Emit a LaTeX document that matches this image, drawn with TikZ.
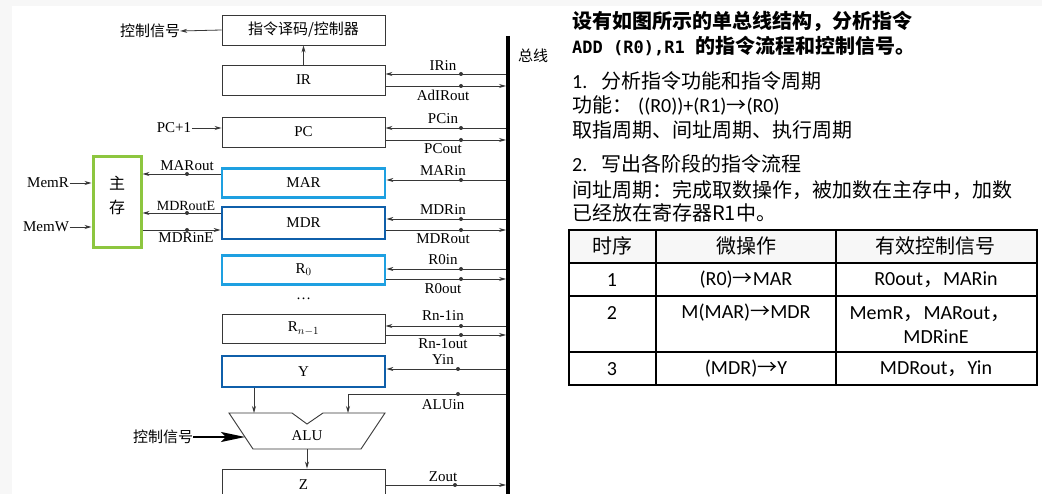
\documentclass[tikz,border=0pt]{standalone}
\usepackage{fontspec}
\setmainfont{Liberation Serif}
\newfontfamily\cjk{Noto Sans CJK SC}
\newfontfamily\calf{Carlito}
\newfontfamily\monof{DejaVu Sans Mono}
\usetikzlibrary{arrows.meta}
\definecolor{lblue}{RGB}{30,160,225}
\definecolor{dblue}{RGB}{15,95,170}
\definecolor{mgreen}{RGB}{141,198,63}
\definecolor{ln}{RGB}{55,55,55}
\newcommand\rarr{{\cjk →}}
\begin{document}
\begin{tikzpicture}[x=1pt,y=-1pt,
  reg/.style={draw=ln,line width=0.9pt,minimum width=163pt,inner sep=0pt,font=\fontsize{15}{15}\selectfont},
  regb/.style={reg,draw=lblue,line width=2.8pt},
  regd/.style={reg,draw=dblue,line width=2.8pt},
  sig/.style={draw=ln,line width=0.8pt,-{Stealth[length=7pt,width=4pt]}},
  lab/.style={inner sep=0.5pt,font=\fontsize{15}{15}\selectfont},
  cn/.style={inner sep=0pt,font=\fontsize{15}{15}\cjk},
  tx/.style={anchor=base west,inner sep=0pt,font=\fontsize{20}{20}\cjk},
  tc/.style={inner sep=0pt,font=\fontsize{20}{20}\calf},
]
\useasboundingbox (0,0) rectangle (1042,494);
\fill[gray!6] (0,0) rectangle (1042,494);
\fill[white] (12,6) rectangle (1042,494);

% registers
\node[reg,minimum height=30pt] (CU) at (303.5,30) {\fontsize{15}{15}\cjk 指令译码/控制器};
\node[reg,minimum height=30pt] (IR) at (303.5,80) {IR};
\node[reg,minimum height=30pt] (PC) at (303.5,132) {PC};
\node[regb,minimum height=29pt] (MAR) at (303.5,183) {MAR};
\node[regd,minimum height=32pt] (MDR) at (303.5,223) {MDR};
\node[regb,minimum height=29pt] (R0) at (303.5,270) {R$_0$};
\node[lab] (dots) at (303.5,299) {\dots};
\node[reg,minimum height=29pt] (Rn) at (303.5,328.5) {R$_{n-1}$};
\node[regd,minimum height=31pt] (Y) at (303.5,371.5) {Y};
\node[reg,minimum height=32pt] (Z) at (303.5,485) {Z};

% bus
\coordinate (busT) at (508,36);
\coordinate (busB) at (508,494);
\coordinate (busL) at (506,0);
\draw[line width=4pt,black] (busT) -- (busB);
\node[cn] (buslab) at (533,56) {总线};

% control
\node[cn] (ctl1) at (150,31) {控制信号};
\draw[sig] (CU.west) -- (ctl1.east);
\draw[sig] (IR.north) -- (CU.south);
\node[lab] (pc1) at (174,128) {PC+1};
\draw[sig] (pc1.east) -- (PC.west |- pc1.east);

% bus signals into registers
\foreach \r/\xx/\yy in {IR/461/74, PC/461/128, MAR/461/180, MDR/461/219, R0/461/269, Rn/461/326, Y/458/369} {
  \coordinate (d) at (\xx,\yy);
  \draw[sig] (busL |- d) -- (\r.east |- d);
  \fill[ln] (d) circle (2);
}
% register outputs to bus
\foreach \r/\xx/\yy in {IR/461/86, PC/461/140, MDR/461/230, R0/461/279, Rn/461/335, Z/455/485} {
  \coordinate (d) at (\xx,\yy);
  \draw[sig] (\r.east |- d) -- (busL |- d);
  \fill[ln] (d) circle (2);
}
% labels
\node[lab] at (443,66) {IRin};
\node[lab] at (443,95) {AdIRout};
\node[lab] at (443,119) {PCin};
\node[lab] at (443,149) {PCout};
\node[lab] at (443,171) {MARin};
\node[lab] at (443,210) {MDRin};
\node[lab] at (443,239) {MDRout};
\node[lab] at (443,260) {R0in};
\node[lab] at (443,289) {R0out};
\node[lab] at (443,316) {Rn-1in};
\node[lab] at (443,344) {Rn-1out};
\node[lab] at (443,360) {Yin};
\node[lab] at (443,405) {ALUin};
\node[lab] at (443,477) {Zout};

% ALU
\coordinate (aluTL) at (229,413);
\coordinate (aluN1) at (292,413);
\coordinate (aluV) at (307,424);
\coordinate (aluN2) at (323,413);
\coordinate (aluTR) at (385,413);
\coordinate (aluBR) at (361,449);
\coordinate (aluBL) at (253,449);
\draw[ln,line width=0.9pt] (aluTL) -- (aluN1) -- (aluV) -- (aluN2) -- (aluTR) -- (aluBR) -- (aluBL) -- cycle;
\node[lab] (alu) at (307,436) {ALU};
\coordinate (aluInA) at (254,413);
\coordinate (aluInB) at (348,413);
\coordinate (aluOut) at (307,449);
\coordinate (dALU) at (458,394);
\draw[sig] (Y.south -| aluInA) -- (aluInA);
\draw[sig] (busL |- dALU) -| (aluInB);
\fill[ln] (dALU) circle (2);
\draw[sig] (aluOut) -- (aluOut |- Z.north);
\node[cn] (ctl2) at (163,437) {控制信号};
\coordinate (aluFeed) at (245,437);
\draw[black,line width=2pt,-{Stealth[length=24pt,width=10pt,inset=5pt]}] (ctl2.east) -- (aluFeed);

% main memory
\node[draw=mgreen,line width=3pt,minimum width=48pt,minimum height=91pt,inner sep=0pt] (mem) at (117,202.5) {};
\node[cn,font=\fontsize{16}{16}\cjk] at (117,183) {主};
\node[cn,font=\fontsize{16}{16}\cjk] at (117,207) {存};
\node[lab] (memr) at (48,183) {MemR};
\node[lab] (memw) at (46,227) {MemW};
\draw[sig] (memr.east) -- (mem.west |- memr.east);
\draw[sig] (memw.east) -- (mem.west |- memw.east);
\coordinate (dMARo) at (187,174);
\coordinate (dMDRoE) at (187,213);
\coordinate (dMDRiE) at (187,230);
\draw[sig] (MAR.west |- dMARo) -- (mem.east |- dMARo);
\draw[sig] (MDR.west |- dMDRoE) -- (mem.east |- dMDRoE);
\draw[sig] (mem.east |- dMDRiE) -- (MDR.west |- dMDRiE);
\fill[ln] (dMARo) circle (2);
\fill[ln] (dMDRoE) circle (2);
\fill[ln] (dMDRiE) circle (2);
\node[lab] at (187,166) {MARout};
\node[lab] at (186,206) {\fontsize{14}{14}\selectfont MDRoutE};
\node[lab] at (186,238) {MDRinE};

% right text
\node[tx,font=\fontsize{20}{20}\cjk\bfseries] (t1) at (572,29) {设有如图所示的单总线结构，分析指令};
\node[tx,font=\fontsize{20}{20}\cjk\bfseries] (t2) at (572,54) {{\monof\bfseries\fontsize{17}{17}\selectfont ADD (R0),R1\ }的指令流程和控制信号。};
\node[tx] (t3) at (572,89) {{\calf 1.}\hspace{14pt}分析指令功能和指令周期};
\node[tx] (t4) at (572,113) {功能：\hspace{6pt}{\calf ((R0))+(R1)}\rarr{\calf (R0)}};
\node[tx] (t5) at (572,138) {取指周期、间址周期、执行周期};
\node[tx] (t6) at (572,172) {{\calf 2.}\hspace{14pt}写出各阶段的指令流程};
\node[tx] (t7) at (572,198) {间址周期：完成取数操作，被加数在主存中，加数};
\node[tx] (t8) at (572,221) {已经放在寄存器R1中。};

% table
\fill[gray!6] (569,230) rectangle (1037,263);
\draw[line width=1.3pt] (569,230) rectangle (1037,385);
\draw[line width=1.3pt] (569,263) -- (1037,263);
\draw[line width=1.3pt] (569,296) -- (1037,296);
\draw[line width=1.3pt] (569,352) -- (1037,352);
\draw[line width=1.3pt] (656,230) -- (656,385);
\draw[line width=1.3pt] (836,230) -- (836,385);
\node[tc] at (612,246) {\cjk 时序};
\node[tc] at (746,246) {\cjk 微操作};
\node[tc] at (935,246) {\cjk 有效控制信号};
\node[tc] at (612,280) {1};
\node[tc] at (746,280) {(R0)\rarr MAR};
\node[tc] at (936,280) {R0out{\cjk ，}MARin};
\node[tc] at (612,313) {2};
\node[tc] at (746,313) {M(MAR)\rarr MDR};
\node[tc] at (930,314) {MemR{\cjk ，}MARout{\cjk ，}};
\node[tc] at (936,337) {MDRinE};
\node[tc] at (612,369) {3};
\node[tc] at (746,369) {(MDR)\rarr Y};
\node[tc] at (936,369) {MDRout{\cjk ，}Yin};
\end{tikzpicture}
\end{document}
